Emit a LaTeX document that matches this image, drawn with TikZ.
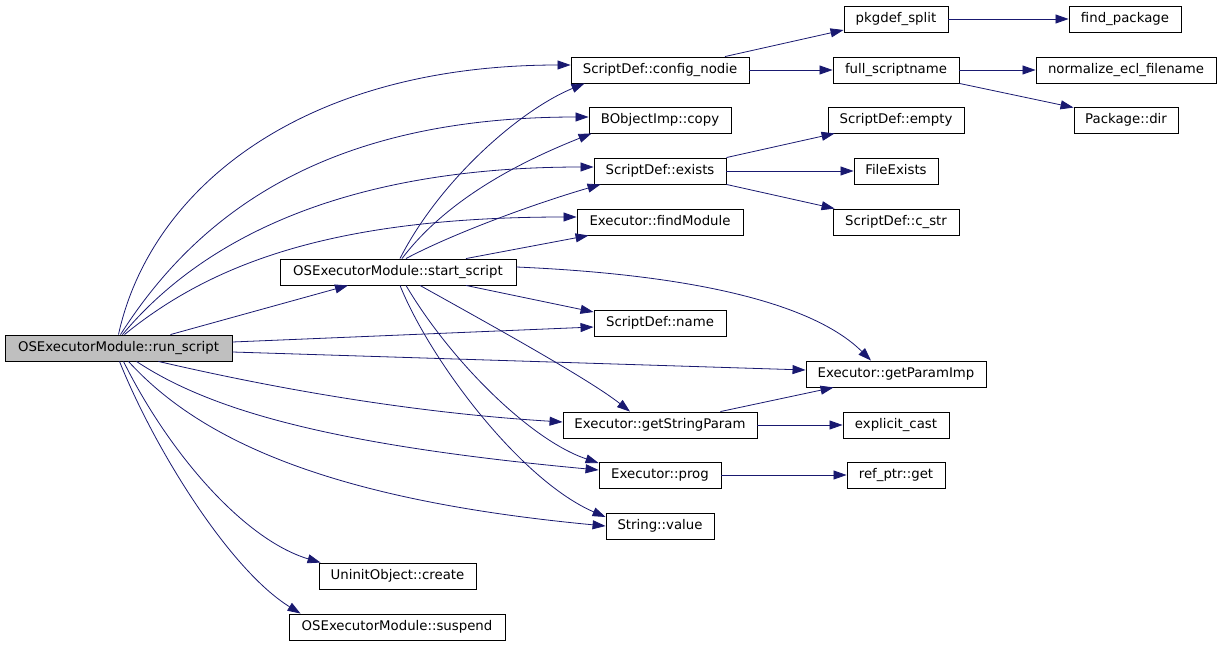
\documentclass[tikz,border=0pt]{standalone}
\usepackage{fontspec}
\setmainfont{DejaVu Sans}
\usetikzlibrary{arrows.meta}
\definecolor{edgeblue}{RGB}{25,25,112}
\definecolor{rootgray}{RGB}{191,191,191}

\begin{document}
\begin{tikzpicture}[x=1pt, y=-1pt,
    fn/.style={draw=black, line width=0.9pt, minimum height=26pt, inner sep=0pt,
        text height=10pt, text depth=3pt, font=\fontsize{13.3}{15}\selectfont},
    call/.style={draw=edgeblue, line width=0.8pt, -{Triangle[length=13pt,width=9pt]}}]
    \useasboundingbox (0,0) rectangle (1221,645);

    % Caller and first level
    \node[fn, fill=rootgray, minimum width=227pt] (run) at (118.5,348) {OSExecutorModule::run\_script};
    \node[fn, minimum width=236pt] (start) at (398,272) {OSExecutorModule::start\_script};
    \node[fn, minimum width=157pt] (uninit) at (397.5,576) {UninitObject::create};
    \node[fn, minimum width=216pt] (suspend) at (397,627) {OSExecutorModule::suspend};

    % Middle column
    \node[fn, minimum width=178pt] (cfg) at (660,70) {ScriptDef::config\_nodie};
    \node[fn, minimum width=142pt] (copy) at (660,120) {BObjectImp::copy};
    \node[fn, minimum width=132pt] (exists) at (660,171) {ScriptDef::exists};
    \node[fn, minimum width=166pt] (findmod) at (660,222) {Executor::findModule};
    \node[fn, minimum width=132pt] (name) at (660,323) {ScriptDef::name};
    \node[fn, minimum width=194pt] (getstr) at (660,425) {Executor::getStringParam};
    \node[fn, minimum width=122pt] (prog) at (660,475) {Executor::prog};
    \node[fn, minimum width=108pt] (value) at (660,526) {String::value};

    % Right columns
    \node[fn, minimum width=104pt] (pkgdef) at (896,19) {pkgdef\_split};
    \node[fn, minimum width=126pt] (full) at (896,70) {full\_scriptname};
    \node[fn, minimum width=136pt] (empty) at (896,120) {ScriptDef::empty};
    \node[fn, minimum width=84pt] (fexists) at (896,171) {FileExists};
    \node[fn, minimum width=126pt] (cstr) at (896,222) {ScriptDef::c\_str};
    \node[fn, minimum width=180pt] (getparam) at (896,374) {Executor::getParamImp};
    \node[fn, minimum width=106pt] (cast) at (896,425) {explicit\_cast};
    \node[fn, minimum width=98pt] (refget) at (896,475) {ref\_ptr::get};
    \node[fn, minimum width=112pt] (findpkg) at (1125,19) {find\_package};
    \node[fn, minimum width=180pt] (normalize) at (1126,70) {normalize\_ecl\_filename};
    \node[fn, minimum width=104pt] (pkgdir) at (1126,120) {Package::dir};

    % Calls of run_script
    \draw[call] (run.north) .. controls (150,190) and (300,65) .. ([yshift=5pt]cfg.west);
    \draw[call] ([xshift=2pt]run.north) .. controls (200,210) and (330,117) .. ([yshift=3pt]copy.west);
    \draw[call] ([xshift=4pt]run.north) .. controls (210,230) and (360,167) .. ([yshift=4pt]exists.west);
    \draw[call] ([xshift=6pt]run.north) .. controls (210,265) and (330,217) .. ([yshift=5pt]findmod.west);
    \draw[call] ([xshift=52pt]run.north) -- ([xshift=-50pt]start.south);
    \draw[call] ([yshift=6pt]run.east) -- ([yshift=-4pt]name.west);
    \draw[call] ([yshift=-4pt]run.east) -- ([yshift=4pt]getparam.west);
    \draw[call] ([xshift=40pt]run.south) .. controls (260,385) and (400,412) .. ([yshift=3pt]getstr.west);
    \draw[call] ([xshift=18pt]run.south) .. controls (210,410) and (330,445) .. ([yshift=5pt]prog.west);
    \draw[call] ([xshift=10pt]run.south) .. controls (200,440) and (330,500) .. (value.west);
    \draw[call] ([xshift=5pt]run.south) .. controls (170,455) and (245,540) .. ([xshift=2pt]uninit.north west);
    \draw[call] ([xshift=1pt]run.south) .. controls (155,450) and (230,570) .. ([xshift=12pt]suspend.north west);

    % Calls of start_script
    \draw[call] ([xshift=2pt]start.north) .. controls (440,180) and (520,110) .. ([xshift=14pt]cfg.south west);
    \draw[call] ([xshift=4pt]start.north) .. controls (450,195) and (530,158) .. ([xshift=3pt]copy.south west);
    \draw[call] ([xshift=8pt]start.north) .. controls (450,235) and (530,205) .. ([xshift=7pt]exists.south west);
    \draw[call] ([xshift=68pt]start.north) -- ([xshift=12pt]findmod.south west);
    \draw[call] ([xshift=68pt]start.south) -- ([yshift=11pt]name.west);
    \draw[call] ([yshift=5pt]start.east) .. controls (700,275) and (815,305) .. ([xshift=-25pt]getparam.north);
    \draw[call] ([xshift=22pt]start.south) .. controls (500,330) and (590,380) .. ([xshift=-30pt]getstr.north);
    \draw[call] ([xshift=8pt]start.south) .. controls (450,360) and (530,440) .. ([yshift=12pt]prog.west);
    \draw[call] ([xshift=2pt]start.south) .. controls (430,360) and (520,480) .. ([yshift=9pt]value.west);

    % Deeper calls
    \draw[call] ([xshift=65pt]cfg.north) -- ([yshift=-11pt]pkgdef.west);
    \draw[call] (cfg.east) -- (full.west);
    \draw[call] (pkgdef.east) -- (findpkg.west);
    \draw[call] (full.east) -- (normalize.west);
    \draw[call] (full.south east) -- ([yshift=-1pt]pkgdir.north west);
    \draw[call] (exists.north east) -- ([xshift=7pt]empty.south west);
    \draw[call] (exists.east) -- (fexists.west);
    \draw[call] (exists.south east) -- ([xshift=2pt]cstr.north west);
    \draw[call] ([xshift=-37pt]getstr.north east) -- ([xshift=28pt]getparam.south west);
    \draw[call] (getstr.east) -- (cast.west);
    \draw[call] (prog.east) -- (refget.west);
\end{tikzpicture}
\end{document}
